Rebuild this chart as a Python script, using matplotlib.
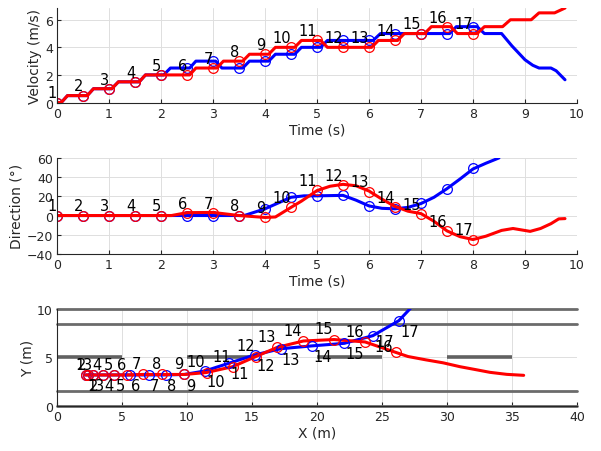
import matplotlib
matplotlib.use('Agg')
import matplotlib.pyplot as plt

# marker times (one label per marker, 1..17)
t_mk = [0, 0.5, 1, 1.5, 2, 2.5, 3, 3.5, 4, 4.5, 5, 5.5, 6, 6.5, 7, 7.5, 8]
mk_labels = [str(i) for i in range(1, 18)]

# velocity at markers
red_v = [0, 0.5, 1, 1.5, 2, 2, 2.5, 3, 3.5, 4, 4.5, 4, 4, 4.5, 5, 5.5, 5]
blue_v = [0, 0.5, 1, 1.5, 2, 2.5, 3, 2.5, 3, 3.5, 4, 4.5, 4.5, 5, 5, 5, 5.5]

# velocity traces
red_vt = [0, 0.08, 0.2, 0.58, 0.7, 1.05, 1.18, 1.58, 1.7, 2.55, 2.67, 3.07, 3.2, 3.57, 3.7,
          4.07, 4.2, 4.57, 4.7, 5.07, 5.2, 6.05, 6.18, 6.55, 6.68, 7.07, 7.2, 7.57, 7.7,
          8.08, 8.22, 8.57, 8.72, 9.12, 9.27, 9.57, 9.77]
red_vv = [0, 0, 0.5, 0.5, 1, 1, 1.5, 1.5, 2, 2, 2.5, 2.5, 3, 3, 3.5,
          3.5, 4, 4, 4.5, 4.5, 4, 4, 4.5, 4.5, 5, 5, 5.5, 5.5, 5,
          5, 5.5, 5.5, 6, 6, 6.5, 6.5, 6.85]
blue_vt = [0, 0.08, 0.2, 0.58, 0.7, 1.05, 1.18, 1.58, 1.7, 2.05, 2.18, 2.55, 2.67, 3.05, 3.17,
           3.57, 3.7, 4.07, 4.2, 4.57, 4.7, 5.07, 5.2, 6.08, 6.22, 7.55, 7.68, 8.08, 8.22,
           8.55, 8.75, 9.0, 9.15, 9.27, 9.5, 9.6, 9.77]
blue_vv = [0, 0, 0.5, 0.5, 1, 1, 1.5, 1.5, 2, 2, 2.5, 2.5, 3, 3, 2.5,
           2.5, 3, 3, 3.5, 3.5, 4, 4, 4.5, 4.5, 5, 5, 5.5, 5.5, 5,
           5, 4.1, 3.1, 2.7, 2.5, 2.5, 2.3, 1.65]

# direction at markers (deg)
red_d = [0, 0, 0, 0, 0, 3, 3, 0, -2, 9, 27, 32, 25, 9, 2, -16, -25]
blue_d = [0, 0, 0, 0, 0, 0, 0, 0, 7, 19, 20, 21, 10, 7, 13, 28, 49]

# direction traces
red_dt = [0, 2.2, 2.5, 3.0, 3.5, 4.0, 4.2, 4.5, 4.7, 5.0, 5.25, 5.5, 5.75, 6.0, 6.25, 6.5,
          6.75, 7.0, 7.25, 7.5, 7.75, 8.0, 8.25, 8.55, 8.77, 9.1, 9.3, 9.5, 9.65, 9.77]
red_dd = [0, 0, 3, 3.2, 0, -2, -1.5, 8.5, 15, 26, 30.5, 32.5, 31, 25.5, 17, 9.5,
          4.5, 2, -6, -16, -22, -25, -21.5, -15.5, -13.5, -16.5, -13.5, -8.5, -3.5, -3.2]
blue_dt = [0, 3.6, 4.0, 4.5, 4.75, 5.0, 5.5, 5.75, 6.0, 6.25, 6.5, 6.75, 7.0, 7.25, 7.5,
           7.75, 8.0, 8.25, 8.5]
blue_dd = [0, 0, 7, 19, 20.5, 20.5, 21, 16, 10, 7.5, 7, 8.5, 12.5, 19, 28,
           38, 48.5, 54.5, 60]

# positions at markers (m)
red_x = [2.2, 2.37, 2.8, 3.5, 4.4, 5.4, 6.6, 8.1, 9.8, 11.5, 13.5, 15.3, 16.95, 18.95, 21.3, 23.7, 26.05]
red_y = [3.2, 3.2, 3.2, 3.2, 3.2, 3.2, 3.25, 3.25, 3.25, 3.45, 4.05, 5.1, 6.05, 6.7, 6.85, 6.6, 5.53]
blue_x = [2.2, 2.37, 2.8, 3.5, 4.4, 5.6, 7.04, 8.35, 9.8, 11.4, 13.2, 15.2, 17.2, 19.65, 22.1, 24.3, 26.3]
blue_y = [3.2, 3.2, 3.2, 3.2, 3.2, 3.2, 3.2, 3.2, 3.25, 3.62, 4.4, 5.26, 5.9, 6.2, 6.46, 7.25, 8.8]

# trajectory tails after the last marker
red_tail_x = [27, 28.4, 29.7, 31, 32.2, 33.3, 34.6, 35.9]
red_tail_y = [5.1, 4.75, 4.45, 4.05, 3.75, 3.47, 3.26, 3.16]
blue_tail_x = [27.7]
blue_tail_y = [10.8]

# road
lane_y = [0, 1.5, 8.5, 10]
dash_start = [0, 10, 20, 30, 40]
dash_len = 5

txtc = (0.15, 0.15, 0.15)
plt.rcParams['font.family'] = 'DejaVu Sans'
plt.rcParams['font.size'] = 9
plt.rcParams['lines.solid_joinstyle'] = 'round'
plt.rcParams['lines.solid_capstyle'] = 'round'

fig = plt.figure(figsize=(6.01, 4.52), dpi=100)
ax1 = fig.add_axes([0.095, 0.771, 0.865, 0.209])
ax2 = fig.add_axes([0.095, 0.436, 0.865, 0.2124])
ax3 = fig.add_axes([0.095, 0.0996, 0.865, 0.2146])


def style_ax(ax):
    ax.spines['top'].set_visible(False)
    ax.spines['right'].set_visible(False)
    for s in ['left', 'bottom']:
        ax.spines[s].set_color(txtc)
        ax.spines[s].set_linewidth(0.8)
    ax.grid(True, color=(0.87, 0.87, 0.87), linewidth=0.7)
    ax.set_axisbelow(True)
    ax.tick_params(direction='in', length=3, colors=txtc, labelsize=9, pad=3)


# velocity
ax1.plot(blue_vt, blue_vv, color='b', lw=2.2)
ax1.plot(t_mk, blue_v, 'o', mfc='none', mec='b', ms=7, mew=0.9)
ax1.plot(red_vt, red_vv, color='r', lw=2.2)
ax1.plot(t_mk, red_v, 'o', mfc='none', mec='r', ms=7, mew=0.9)
for t, v, s in zip(t_mk, red_v, mk_labels):
    ax1.text(t, v + 0.7, s, ha='right', va='center', fontsize=10.5)
ax1.set_xlim(0, 10)
ax1.set_ylim(0, 6.85)
ax1.set_xticks(range(0, 11))
ax1.set_yticks([0, 2, 4, 6])
ax1.set_xlabel('Time (s)', color=txtc, fontsize=10, labelpad=2)
ax1.set_ylabel('Velocity (m/s)', color=txtc, fontsize=10, labelpad=2)
style_ax(ax1)

# direction
ax2.plot(blue_dt, blue_dd, color='b', lw=2.2)
ax2.plot(t_mk, blue_d, 'o', mfc='none', mec='b', ms=7, mew=0.9)
ax2.plot(red_dt, red_dd, color='r', lw=2.2)
ax2.plot(t_mk, red_d, 'o', mfc='none', mec='r', ms=7, mew=0.9)
for t, d, s in zip(t_mk, red_d, mk_labels):
    ax2.text(t, d + 10, s, ha='right', va='center', fontsize=10.5)
ax2.set_xlim(0, 10)
ax2.set_ylim(-40, 60)
ax2.set_xticks(range(0, 11))
ax2.set_yticks(range(-40, 61, 20))
ax2.set_xlabel('Time (s)', color=txtc, fontsize=10, labelpad=2)
ax2.set_ylabel('Direction (°)', color=txtc, fontsize=10, labelpad=2)
style_ax(ax2)

# position
for y in lane_y:
    ax3.plot([0, 40], [y, y], color=(0.42, 0.42, 0.42), lw=2, zorder=2, clip_on=False)
for x0 in dash_start:
    ax3.plot([x0, x0 + dash_len], [5, 5], color=(0.38, 0.38, 0.38), lw=2.6,
             solid_capstyle='butt', zorder=2)
ax3.plot(blue_x + blue_tail_x, blue_y + blue_tail_y, color='b', lw=2.2, zorder=3)
ax3.plot(blue_x, blue_y, 'o', mfc='none', mec='b', ms=7, mew=0.9, zorder=4)
ax3.plot(red_x + red_tail_x, red_y + red_tail_y, color='r', lw=2.2, zorder=3)
ax3.plot(red_x, red_y, 'o', mfc='none', mec='r', ms=7, mew=0.9, zorder=4)
for x, y, s in zip(red_x, red_y, mk_labels):
    ax3.text(x - 0.1, y + 1.1, s, ha='right', va='center', fontsize=10.5, zorder=5)
for x, y, s in zip(blue_x, blue_y, mk_labels):
    ax3.text(x + 0.1, y - 1.1, s, ha='left', va='center', fontsize=10.5, zorder=5)
ax3.set_xlim(0, 40)
ax3.set_ylim(0, 10)
ax3.set_xticks(range(0, 41, 5))
ax3.set_yticks([0, 5, 10])
ax3.set_xlabel('X (m)', color=txtc, fontsize=10, labelpad=2)
ax3.set_ylabel('Y (m)', color=txtc, fontsize=10, labelpad=2)
style_ax(ax3)

fig.savefig('out.png', dpi=100)
